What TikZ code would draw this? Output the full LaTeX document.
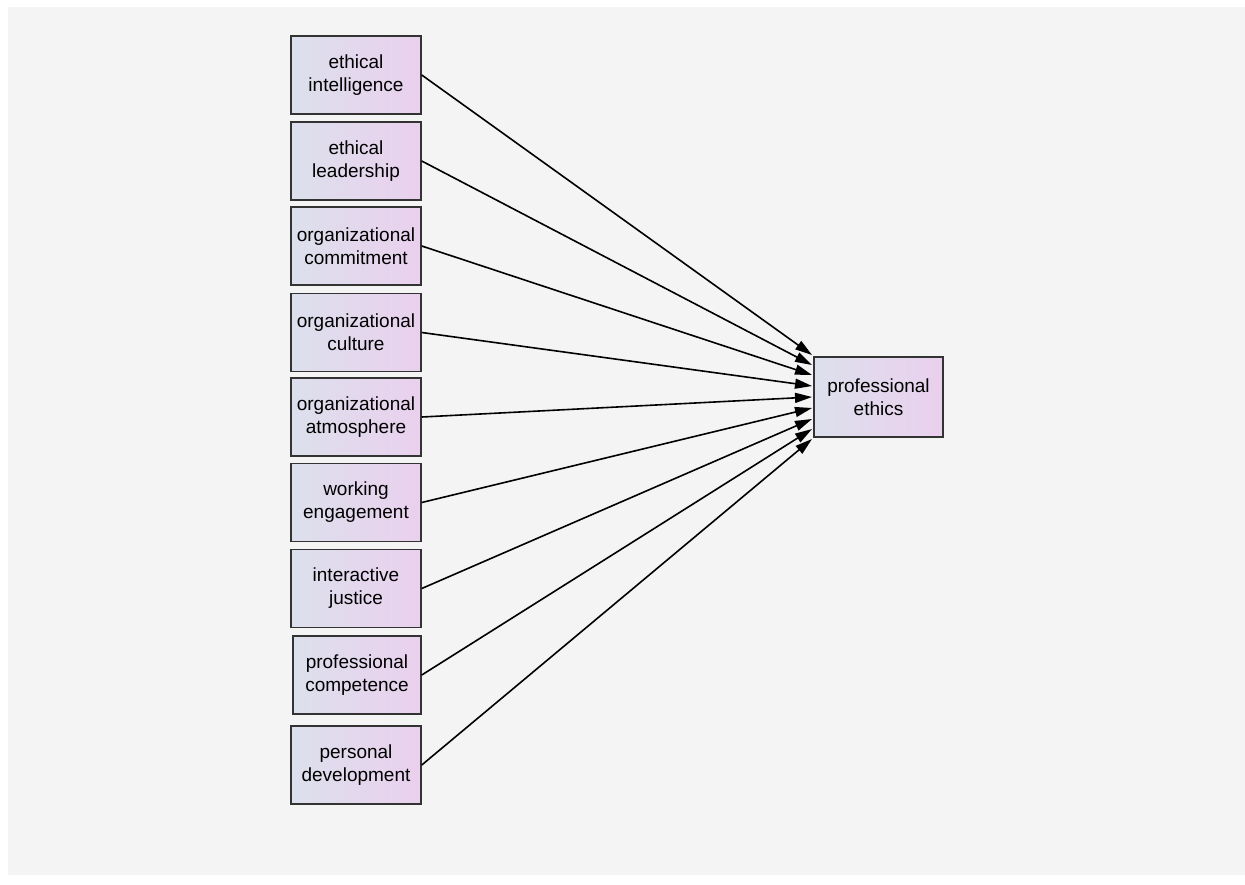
\documentclass[tikz,border=0pt]{standalone}
\usepackage{fontspec}
\setmainfont{Liberation Sans}
\usetikzlibrary{arrows.meta}
\definecolor{boxl}{RGB}{220,224,236}
\definecolor{boxr}{RGB}{234,208,238}
\definecolor{bg}{RGB}{244,244,244}
\begin{document}
\begin{tikzpicture}[x=1pt,y=-1pt,
  box/.style={draw=black!80,line width=1.5pt,left color=boxl,right color=boxr,
    minimum width=130pt,minimum height=78pt,align=center,inner sep=0pt,
    font=\fontsize{19}{23}\selectfont},
  conn/.style={line width=1.6pt,-{Triangle[length=17pt,width=10pt]}}]
\useasboundingbox (0,0) rectangle (1245,884);
\fill[white] (0,0) rectangle (1245,884);
\fill[bg] (8,7) rectangle (1245,875);
\node[box] (a1) at (356,75) {ethical\\intelligence};
\node[box] (a2) at (356,161) {ethical\\leadership};
\node[box] (a3) at (356,246) {organizational\\commitment};
\node[box] (a4) at (356,332.5) {organizational\\culture};
\node[box] (a5) at (356,417) {organizational\\atmosphere};
\node[box] (a6) at (356,502.5) {working\\engagement};
\node[box] (a7) at (356,588.5) {interactive\\justice};
\node[box,minimum width=128pt] (a8) at (357,675) {professional\\competence};
\node[box] (a9) at (356,765) {personal\\development};
\node[box,minimum width=129pt,minimum height=80pt] (t) at (878.5,397) {professional\\ethics};
\foreach \i/\y in {1/355,2/365,3/375,4/386,5/397,6/408,7/419,8/429,9/439}{
  \coordinate (e\i) at (812,\y);
  \draw[conn] (a\i.east) -- (e\i);
}
\end{tikzpicture}
\end{document}
